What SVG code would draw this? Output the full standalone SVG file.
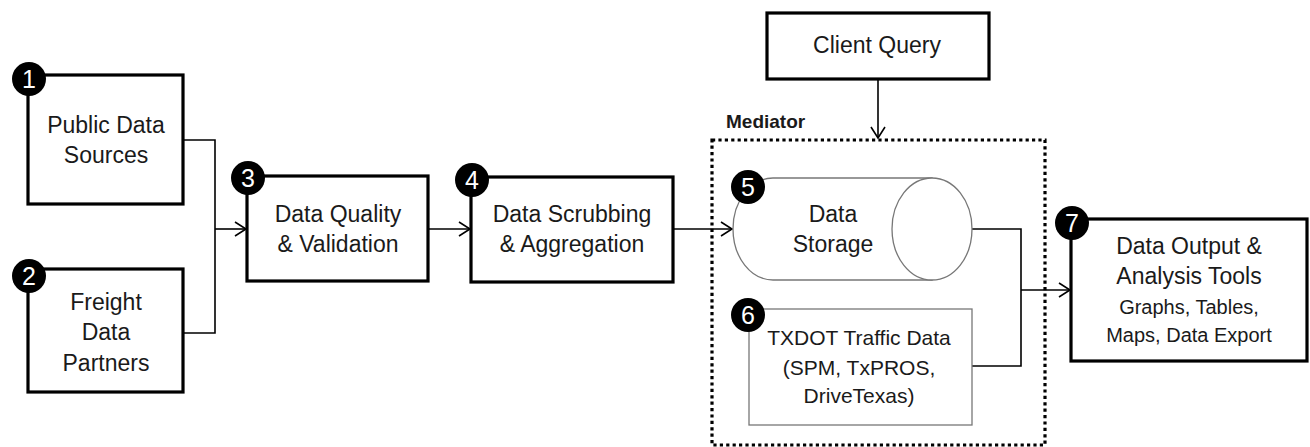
<svg xmlns="http://www.w3.org/2000/svg" width="1310" height="447" viewBox="0 0 1310 447">
<defs>
<marker id="arr" markerWidth="14" markerHeight="16" refX="12" refY="8" orient="auto" markerUnits="userSpaceOnUse">
<path d="M1,1 L12,8 L1,15" fill="none" stroke="#000" stroke-width="1.6"/>
</marker>
<style>
.box{fill:#fff;stroke:#000;stroke-width:3.2}
.thin{fill:#fff;stroke:#777;stroke-width:1.3}
.t{font-family:"Liberation Sans",Arial,sans-serif;font-size:23px;fill:#1a1a1a;text-anchor:middle}
.s{font-size:20px}
.m{font-size:21px}
.badge{fill:#000}
.num{font-family:"Liberation Sans",Arial,sans-serif;font-size:25px;fill:#fff;text-anchor:middle}
.con{fill:none;stroke:#000;stroke-width:1.6}
</style>
</defs>
<rect width="1310" height="447" fill="#fff"/>

<g id="connectors">
<polyline class="con" points="183,140 215,140 215,333 183,333"/>
<line class="con" x1="215" y1="229" x2="246" y2="229" marker-end="url(#arr)"/>
<line class="con" x1="428" y1="229" x2="470" y2="229" marker-end="url(#arr)"/>
<line class="con" x1="673" y1="229" x2="732" y2="229" marker-end="url(#arr)"/>
<line class="con" x1="878" y1="79" x2="878" y2="138" marker-end="url(#arr)"/>
<polyline class="con" points="972,229 1021,229 1021,366 972,366"/>
<line class="con" x1="1021" y1="290" x2="1070" y2="290" marker-end="url(#arr)"/>
</g>

<g id="mediator">
<rect x="712" y="140" width="333" height="305" fill="none" stroke="#000" stroke-width="3.2" stroke-dasharray="3.2,3.2"/>
<text x="726" y="128" font-family="Liberation Sans,Arial,sans-serif" font-size="19" font-weight="bold" fill="#1a1a1a">Mediator</text>
</g>

<g id="n1">
<rect class="box" x="28" y="75" width="155" height="129"/>
<text class="t" x="106" y="133">Public Data</text>
<text class="t" x="106" y="163">Sources</text>
<circle class="badge" cx="29" cy="79" r="17"/>
<text class="num" x="29" y="88">1</text>
</g>

<g id="n2">
<rect class="box" x="28" y="269" width="155" height="123"/>
<text class="t" x="106" y="310">Freight</text>
<text class="t" x="106" y="340">Data</text>
<text class="t" x="106" y="371">Partners</text>
<circle class="badge" cx="29" cy="276" r="17"/>
<text class="num" x="29" y="285">2</text>
</g>

<g id="n3">
<rect class="box" x="247" y="176" width="181" height="105"/>
<text class="t" x="338" y="222">Data Quality</text>
<text class="t" x="338" y="252">&amp; Validation</text>
<circle class="badge" cx="248" cy="178" r="17"/>
<text class="num" x="248" y="187">3</text>
</g>

<g id="n4">
<rect class="box" x="471" y="177" width="202" height="105"/>
<text class="t" x="572" y="222">Data Scrubbing</text>
<text class="t" x="572" y="252">&amp; Aggregation</text>
<circle class="badge" cx="472" cy="180" r="17"/>
<text class="num" x="472" y="189">4</text>
</g>

<g id="client">
<rect class="box" x="767" y="13" width="222" height="66"/>
<text class="t" x="877" y="53">Client Query</text>
</g>

<g id="n5">
<path class="thin" d="M773,178 L932,178 L932,280 L773,280 A40,51 0 0 1 773,178 Z"/>
<ellipse class="thin" cx="932" cy="229" rx="40" ry="51"/>
<text class="t" x="833" y="222">Data</text>
<text class="t" x="833" y="252">Storage</text>
<circle class="badge" cx="748" cy="187" r="17"/>
<text class="num" x="748" y="196">5</text>
</g>

<g id="n6">
<rect class="thin" x="749" y="309" width="223" height="116"/>
<text class="t m" x="859" y="345">TXDOT Traffic Data</text>
<text class="t m" x="859" y="375">(SPM, TxPROS,</text>
<text class="t m" x="859" y="403">DriveTexas)</text>
<circle class="badge" cx="748" cy="315" r="17"/>
<text class="num" x="748" y="324">6</text>
</g>

<g id="n7">
<rect class="box" x="1071" y="219" width="236" height="142"/>
<text class="t" x="1189" y="254">Data Output &amp;</text>
<text class="t" x="1189" y="284">Analysis Tools</text>
<text class="t s" x="1189" y="314">Graphs, Tables,</text>
<text class="t s" x="1189" y="342">Maps, Data Export</text>
<circle class="badge" cx="1072" cy="223" r="17"/>
<text class="num" x="1072" y="232">7</text>
</g>
</svg>
